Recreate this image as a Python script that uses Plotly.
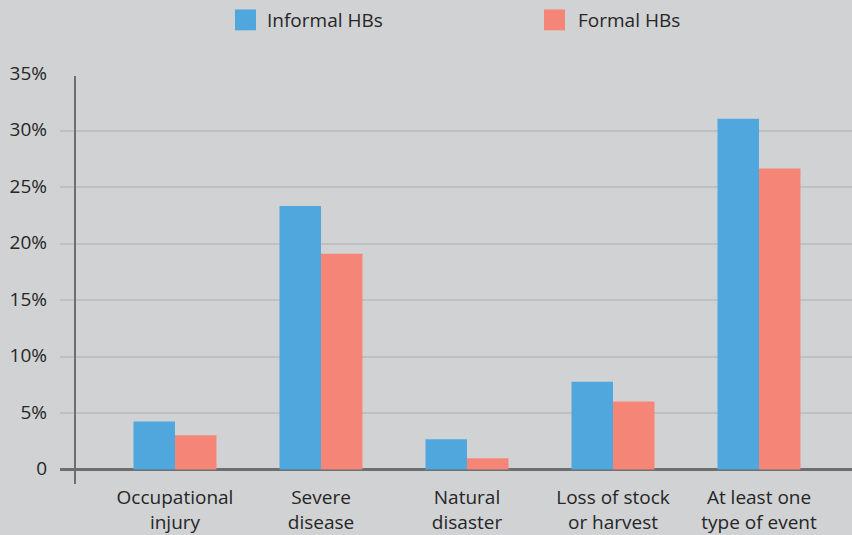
import plotly.graph_objects as go

# Share of households hit by each type of shock, by household-business type (%)
categories = [
    "Occupational<br>injury",
    "Severe<br>disease",
    "Natural<br>disaster",
    "Loss of stock<br>or harvest",
    "At least one<br>type of event",
]
informal_hbs = [4.26, 23.32, 2.68, 7.77, 31.05]
formal_hbs = [3.03, 19.10, 1.01, 6.02, 26.65]

y_tickvals = [0, 5, 10, 15, 20, 25, 30, 35]
y_ticktext = ["0", "5%", "10%", "15%", "20%", "25%", "30%", "35%"]

series_names = ["Informal HBs", "Formal HBs"]
blue = "#4fa7dd"
salmon = "#f58677"
bg = "#d1d2d4"
grid = "#bfc0c2"
axis_col = "#6d6e70"
text_col = "#262626"
font_family = "Open Sans"

fig = go.Figure()
fig.add_trace(go.Bar(x=categories, y=informal_hbs, name=series_names[0],
                     marker=dict(color=blue, line=dict(width=0))))
fig.add_trace(go.Bar(x=categories, y=formal_hbs, name=series_names[1],
                     marker=dict(color=salmon, line=dict(width=0))))

fig.update_layout(
    width=852,
    height=535,
    margin=dict(l=60, r=0, t=74, b=48),
    paper_bgcolor=bg,
    plot_bgcolor=bg,
    barmode="group",
    bargap=0.4315,
    bargroupgap=0,
    showlegend=False,
    font=dict(family=font_family, size=19, color=text_col),
)

fig.update_xaxes(
    type="category",
    range=[-0.7877, 4.637],
    showgrid=False,
    showline=False,
    zeroline=False,
    ticks="",
    tickfont=dict(family=font_family, size=19, color=text_col),
    fixedrange=True,
)

fig.update_yaxes(
    range=[-1.2735, 35],
    tickvals=y_tickvals,
    ticktext=y_ticktext,
    showgrid=True,
    gridcolor=grid,
    gridwidth=2,
    zeroline=True,
    zerolinecolor=axis_col,
    zerolinewidth=2.5,
    showline=False,
    ticks="",
    ticklabelstandoff=12,
    ticklabelshift=-1,
    tickfont=dict(family=font_family, size=19, color=text_col),
    fixedrange=True,
)

# Vertical axis line, inset from the left end of the gridlines
fig.add_shape(type="line", xref="paper", yref="paper",
              x0=15 / 792, x1=15 / 792, y0=0, y1=0.995,
              line=dict(color=axis_col, width=2))

# Legend drawn above the plot: colour swatch + label for each series
legend_items = [(series_names[0], blue, 0.22096, 0.24747, 0.2588),
                (series_names[1], salmon, 0.6111, 0.6376, 0.6515)]
for name, color, sx0, sx1, tx in legend_items:
    fig.add_shape(type="rect", xref="paper", yref="paper",
                  x0=sx0, x1=sx1, y0=1.1065, y1=1.1574,
                  fillcolor=color, line=dict(width=0))
    fig.add_annotation(text=name, xref="paper", yref="paper",
                       x=tx, y=1.132, xanchor="left", yanchor="middle",
                       showarrow=False,
                       font=dict(family=font_family, size=19, color=text_col))

fig.write_html("out.html")
